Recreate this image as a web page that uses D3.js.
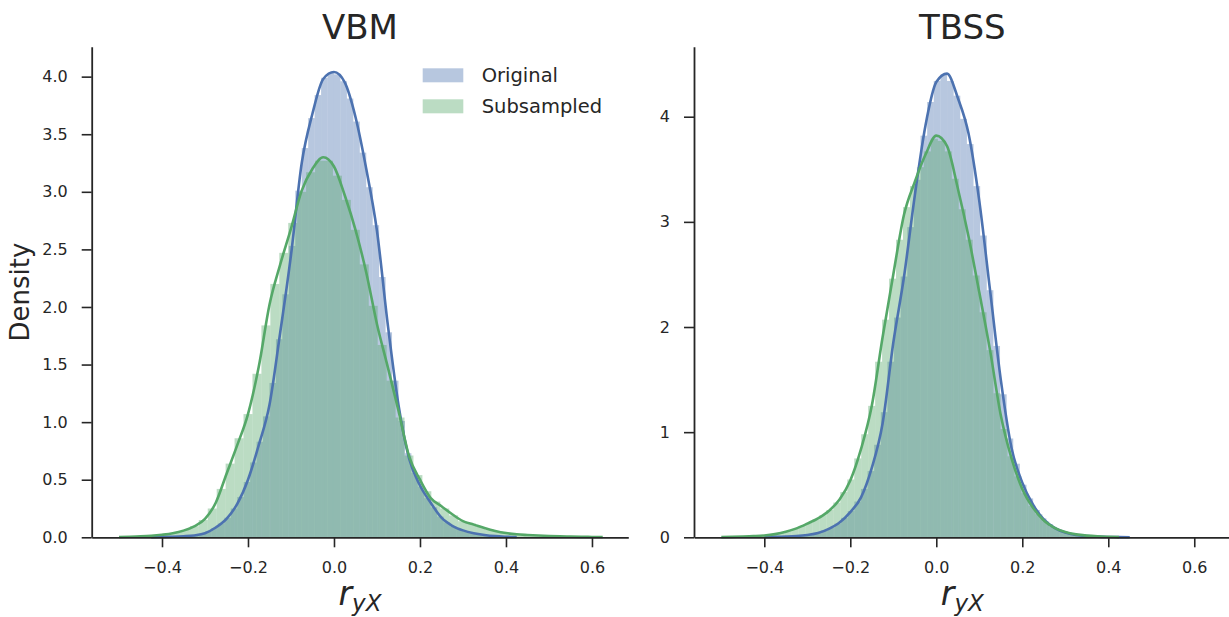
<!DOCTYPE html>
<html>
<head>
<meta charset="utf-8">
<script src="https://cdn.jsdelivr.net/npm/d3@7"></script>
<style>
  body { margin: 0; background: #fff; }
  text { font-family: "DejaVu Sans", sans-serif; fill: #262626; }
</style>
</head>
<body>
<div id="chart"></div>
<script>
const kdeGrid = [
  -0.5, -0.475, -0.45, -0.425, -0.4, -0.375, -0.35, -0.325, -0.3, -0.275,
  -0.25, -0.225, -0.2, -0.175, -0.15, -0.125, -0.1, -0.075, -0.05, -0.025,
  0, 0.025, 0.05, 0.075, 0.1, 0.125, 0.15, 0.175, 0.2, 0.225,
  0.25, 0.275, 0.3, 0.325, 0.35, 0.375, 0.4, 0.425, 0.45, 0.475,
  0.5, 0.525, 0.55, 0.575, 0.6, 0.625
];

// VBM panel: kde densities on kdeGrid (null = no line there)
const vbmOrigKde = [
  null, null, null, 0.001, 0.003, 0.005, 0.009, 0.016, 0.035, 0.085,
  0.16, 0.29, 0.50, 0.80, 1.15, 1.78, 2.45, 3.25, 3.68, 3.98,
  4.04, 3.95, 3.65, 3.20, 2.66, 1.85, 1.15, 0.68, 0.45, 0.30,
  0.17, 0.10, 0.06, 0.035, 0.02, 0.01, 0.005, 0.002, null, null,
  null, null, null, null, null, null
];
const vbmSubKde = [
  0.003, 0.005, 0.008, 0.013, 0.022, 0.035, 0.058, 0.095, 0.16, 0.30,
  0.55, 0.80, 1.07, 1.48, 2.02, 2.37, 2.68, 3.01, 3.20, 3.30,
  3.22, 2.97, 2.67, 2.30, 1.85, 1.48, 1.10, 0.70, 0.50, 0.34,
  0.27, 0.20, 0.14, 0.11, 0.08, 0.055, 0.037, 0.026, 0.02, 0.015,
  0.011, 0.008, 0.006, 0.004, 0.003, 0.002
];
// VBM histograms: [first bin edge, bin width] and 50 bin heights
const vbmOrigBins = [-0.375, 0.015];
const vbmOrigHist = [
  0.006, 0.009, 0.012, 0.018, 0.029, 0.05, 0.08, 0.12, 0.17, 0.25,
  0.35, 0.48, 0.65, 0.83, 1.05, 1.34, 1.72, 2.11, 2.53, 3.01,
  3.38, 3.64, 3.84, 3.99, 4.03, 4.02, 3.96, 3.81, 3.61, 3.34,
  3.04, 2.71, 2.26, 1.78, 1.36, 1.01, 0.73, 0.56, 0.44, 0.34,
  0.26, 0.18, 0.13, 0.095, 0.07, 0.05, 0.037, 0.027, 0.019, 0.012
];
const vbmSubBins = [-0.46, 0.0208];
const vbmSubHist = [
  0.008, 0.012, 0.019, 0.028, 0.042, 0.064, 0.096, 0.15, 0.25, 0.42,
  0.64, 0.86, 1.07, 1.42, 1.84, 2.20, 2.47, 2.73, 3.00, 3.17,
  3.27, 3.27, 3.14, 2.93, 2.67, 2.37, 2.01, 1.67, 1.36, 1.04,
  0.71, 0.54, 0.40, 0.31, 0.25, 0.19, 0.14, 0.12, 0.09, 0.068,
  0.05, 0.036, 0.026, 0.021, 0.017, 0.013, 0.010, 0.008, 0.006, 0.004
];

// TBSS panel
const tbssOrigKde = [
  null, null, null, null, 0.002, 0.004, 0.007, 0.012, 0.022, 0.04,
  0.08, 0.14, 0.24, 0.38, 0.66, 1.08, 1.85, 2.48, 3.25, 3.92,
  4.33, 4.41, 4.18, 3.84, 3.20, 2.35, 1.50, 0.85, 0.52, 0.31,
  0.17, 0.09, 0.045, 0.022, 0.011, 0.006, 0.003, 0.002, 0.001, null,
  null, null, null, null, null, null
];
const tbssSubKde = [
  0.002, 0.004, 0.007, 0.011, 0.017, 0.03, 0.052, 0.085, 0.13, 0.18,
  0.25, 0.36, 0.54, 0.84, 1.25, 1.90, 2.50, 3.07, 3.38, 3.64,
  3.82, 3.72, 3.32, 2.86, 2.33, 1.78, 1.16, 0.75, 0.46, 0.28,
  0.16, 0.09, 0.05, 0.028, 0.016, 0.009, 0.005, 0.002, null, null,
  null, null, null, null, null, null
];
const tbssOrigBins = [-0.36, 0.0154];
const tbssOrigHist = [
  0.007, 0.010, 0.013, 0.019, 0.028, 0.040, 0.064, 0.09, 0.13, 0.185,
  0.25, 0.34, 0.46, 0.63, 0.88, 1.19, 1.67, 2.09, 2.48, 2.95,
  3.40, 3.82, 4.14, 4.34, 4.40, 4.34, 4.20, 3.98, 3.74, 3.34,
  2.87, 2.35, 1.82, 1.36, 0.94, 0.70, 0.50, 0.37, 0.26, 0.18,
  0.125, 0.082, 0.055, 0.034, 0.022, 0.015, 0.010, 0.007, 0.005, 0.003
];
const tbssSubBins = [-0.45, 0.0162];
const tbssSubHist = [
  0.008, 0.011, 0.015, 0.020, 0.029, 0.042, 0.058, 0.080, 0.107, 0.138,
  0.17, 0.21, 0.26, 0.33, 0.43, 0.55, 0.75, 0.98, 1.25, 1.67,
  2.07, 2.46, 2.83, 3.14, 3.34, 3.52, 3.67, 3.79, 3.77, 3.67,
  3.41, 3.12, 2.83, 2.49, 2.14, 1.78, 1.37, 1.03, 0.77, 0.58,
  0.42, 0.30, 0.22, 0.15, 0.10, 0.07, 0.047, 0.031, 0.022, 0.015
];

const xTicks = [-0.4, -0.2, 0.0, 0.2, 0.4, 0.6];
const vbmYTicks = [0, 0.5, 1.0, 1.5, 2.0, 2.5, 3.0, 3.5, 4.0];
const tbssYTicks = [0, 1, 2, 3, 4];
const seriesNames = ["Original", "Subsampled"];

const colors = { orig: "#4C72B0", sub: "#55A868" };
const histAlpha = 0.4;

// layout
const width = 1229, height = 617;
const plotTop = 46.7, plotBottom = 537.3, plotW = 536.6;
const xDomain = [-0.5635, 0.6845];

const svg = d3
  .select("#chart")
  .append("svg")
  .attr("width", width)
  .attr("height", height);

const panels = [
  {
    title: "VBM", left: 91.7, yMax: 4.26, yTicks: vbmYTicks, yFmt: d3.format(".1f"),
    origKde: vbmOrigKde, subKde: vbmSubKde,
    origBins: vbmOrigBins, origHist: vbmOrigHist,
    subBins: vbmSubBins, subHist: vbmSubHist,
    legend: true, ylabel: true
  },
  {
    title: "TBSS", left: 694, yMax: 4.666, yTicks: tbssYTicks, yFmt: d3.format("d"),
    origKde: tbssOrigKde, subKde: tbssSubKde,
    origBins: tbssOrigBins, origHist: tbssOrigHist,
    subBins: tbssSubBins, subHist: tbssSubHist,
    legend: false, ylabel: false
  }
];

panels.forEach((p) => {
  const g = svg.append("g").attr("transform", `translate(${p.left},0)`);

  const x = d3.scaleLinear().domain(xDomain).range([0, plotW]);
  const y = d3.scaleLinear().domain([0, p.yMax]).range([plotBottom, plotTop]);

  // histogram bars (drawn first, like matplotlib patches below lines)
  const drawHist = (bins, hist, color) => {
    g.append("g")
      .selectAll("rect")
      .data(hist)
      .join("rect")
      .attr("x", (d, i) => x(bins[0] + i * bins[1]))
      .attr("width", (d, i) => x(bins[0] + (i + 1) * bins[1]) - x(bins[0] + i * bins[1]))
      .attr("y", (d) => y(d))
      .attr("height", (d) => y(0) - y(d))
      .attr("fill", color)
      .attr("fill-opacity", histAlpha);
  };

  // kde line
  const line = d3
    .line()
    .defined((d) => d[1] != null)
    .x((d) => x(d[0]))
    .y((d) => y(d[1]))
    .curve(d3.curveMonotoneX);

  const drawKde = (kde, color) => {
    g.append("path")
      .datum(kdeGrid.map((v, i) => [v, kde[i]]))
      .attr("d", line)
      .attr("fill", "none")
      .attr("stroke", color)
      .attr("stroke-width", 2.6)
      .attr("stroke-linejoin", "round");
  };

  drawHist(p.origBins, p.origHist, colors.orig);
  drawHist(p.subBins, p.subHist, colors.sub);
  drawKde(p.origKde, colors.orig);
  drawKde(p.subKde, colors.sub);

  // X axis
  const xAxis = g
    .append("g")
    .attr("transform", `translate(0,${plotBottom})`)
    .call(d3.axisBottom(x).tickValues(xTicks).tickFormat(d3.format(".1f")).tickSize(10).tickSizeOuter(0).tickPadding(14));

  // Y axis
  const yAxis = g
    .append("g")
    .call(d3.axisLeft(y).tickValues(p.yTicks).tickFormat(p.yFmt).tickSize(10).tickSizeOuter(0).tickPadding(14));

  [xAxis, yAxis].forEach((a) => {
    a.select(".domain").attr("stroke", "#262626").attr("stroke-width", 1.8);
    a.selectAll(".tick line").attr("stroke", "#262626").attr("stroke-width", 1.6);
    a.selectAll(".tick text").attr("font-size", 16).attr("font-family", "DejaVu Sans").attr("fill", "#262626");
  });

  // title
  g.append("text")
    .attr("x", plotW / 2)
    .attr("y", 39)
    .attr("text-anchor", "middle")
    .attr("font-size", 34)
    .text(p.title);

  // x label r_{yX}
  const xl = g.append("text")
    .attr("x", plotW / 2)
    .attr("y", 605)
    .attr("text-anchor", "middle")
    .attr("font-style", "italic");
  xl.append("tspan").attr("font-size", 33).text("r");
  xl.append("tspan").attr("font-size", 23).attr("dy", 6).text("yX");

  if (p.ylabel) {
    g.append("text")
      .attr("transform", `translate(${29 - p.left},${(plotTop + plotBottom) / 2}) rotate(-90)`)
      .attr("text-anchor", "middle")
      .attr("font-size", 26)
      .text("Density");
  }

  if (p.legend) {
    const leg = g.append("g").attr("transform", "translate(331,68.3)");
    [colors.orig, colors.sub].forEach((c, i) => {
      leg.append("rect")
        .attr("x", 0)
        .attr("y", i * 31)
        .attr("width", 40.6)
        .attr("height", 14)
        .attr("fill", c)
        .attr("fill-opacity", histAlpha);
      leg.append("text")
        .attr("x", 59)
        .attr("y", i * 31 + 7)
        .attr("dy", "0.36em")
        .attr("font-size", 19.5)
        .text(seriesNames[i]);
    });
  }
});
</script>
</body>
</html>
